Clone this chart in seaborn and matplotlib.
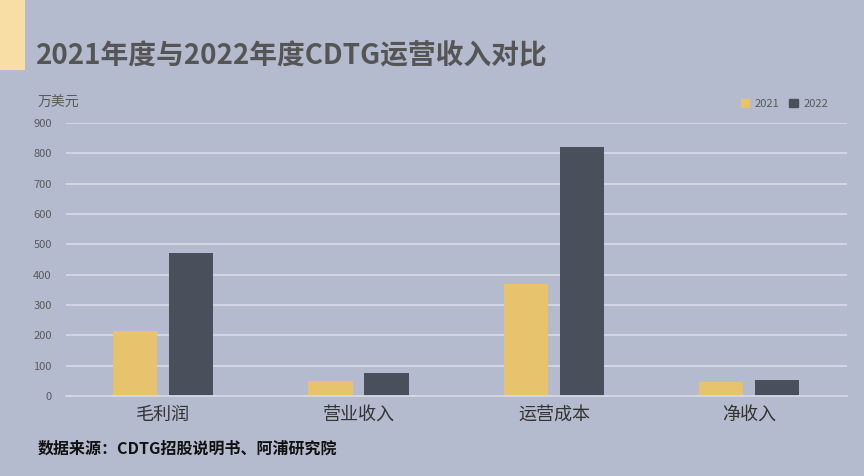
import matplotlib
matplotlib.use("Agg")
import matplotlib.pyplot as plt
import seaborn as sns
import pandas as pd
from matplotlib.patches import Rectangle

categories = ["毛利润", "营业收入", "运营成本", "净收入"]
vals_2021 = [215, 50, 370, 47]
vals_2022 = [470, 76, 820, 53]
years = ["2021", "2022"]
colors = ["#E8C36E", "#4A4F5C"]
yticks = [0, 100, 200, 300, 400, 500, 600, 700, 800, 900]

df = pd.DataFrame({
    "项目": categories * 2,
    "年份": [years[0]] * 4 + [years[1]] * 4,
    "金额": vals_2021 + vals_2022,
})

bg = "#B5BBCE"
sns.set_theme(style="white")
plt.rcParams["font.family"] = ["Noto Sans CJK SC", "DejaVu Sans"]

fig = plt.figure(figsize=(8.64, 4.76), dpi=100, facecolor=bg)
ax = fig.add_axes([0.076, 0.168, 0.904, 0.574])
ax.set_facecolor(bg)

sns.barplot(data=df, x="项目", y="金额", hue="年份", palette=colors,
            width=0.574, gap=0.21, ax=ax, legend=False, saturation=1,
            linewidth=0)

ax.set_ylim(0, 900)
ax.set_xlim(-0.5, 3.5)
ax.set_yticks(yticks)
ax.yaxis.grid(True, color="#D6DAE5", linewidth=1.3)
ax.set_axisbelow(True)
for s in ["top", "right", "left"]:
    ax.spines[s].set_visible(False)
ax.spines["bottom"].set_color("#D6DAE5")
ax.spines["bottom"].set_linewidth(1.3)
ax.tick_params(axis="y", labelsize=8, colors="#5A5A5A", length=0, pad=10)
ax.tick_params(axis="x", labelsize=13, colors="#333333", length=0, pad=7)
ax.set_xlabel("")
ax.set_ylabel("")

# title and decorations
fig.add_artist(Rectangle((0, 1 - 70 / 476), 25 / 864, 70 / 476,
                         transform=fig.transFigure, color="#F8DDA4", lw=0))
fig.text(36 / 864, 1 - 55 / 476, "2021年度与2022年度CDTG运营收入对比",
         fontsize=20, fontweight="bold", color="#555555", va="center")
fig.text(38 / 864, 1 - 103 / 476, "万美元", fontsize=10, color="#595959", va="center")
fig.text(38 / 864, 1 - 449 / 476, "数据来源：CDTG招股说明书、阿浦研究院",
         fontsize=11.5, fontweight="bold", color="#111111", va="center")

# legend
handles = [Rectangle((0, 0), 1, 1, color=c) for c in colors]
fig.legend(handles, years, loc="center right", bbox_to_anchor=(838 / 864, 1 - 104 / 476),
           ncol=2, frameon=False, fontsize=8, handlelength=0.8, handleheight=0.8,
           columnspacing=0.8, handletextpad=0.5, labelcolor="#5A5A5A")

fig.savefig("out.png", dpi=100, facecolor=bg)
